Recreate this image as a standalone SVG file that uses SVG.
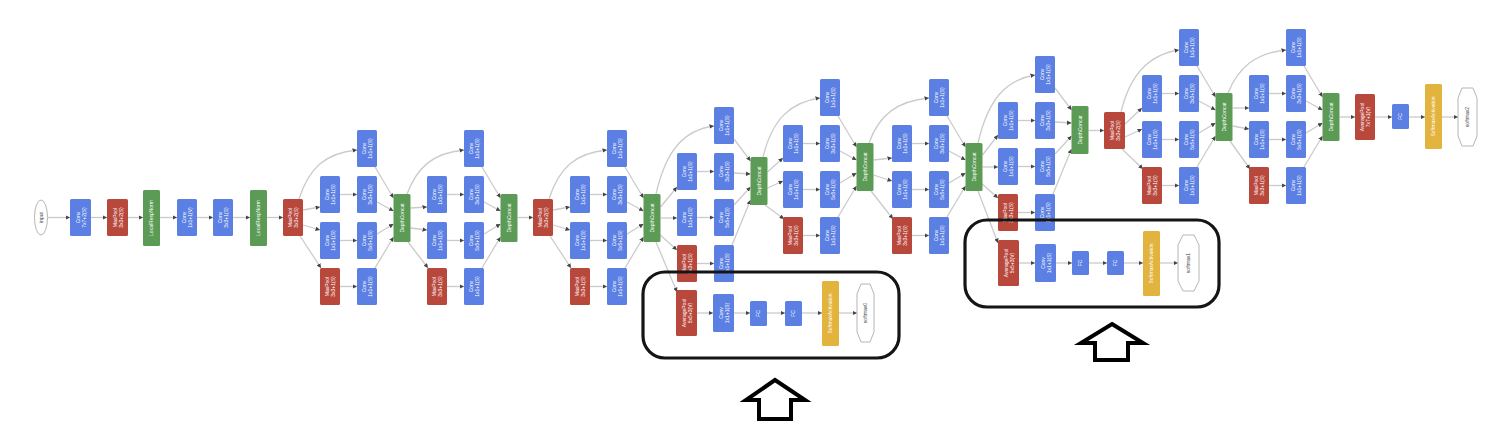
<svg xmlns="http://www.w3.org/2000/svg" width="1492" height="446" viewBox="0 0 1492 446">
<style>
.cv{fill:#5b7fe3;rx:1.5px}
.mp{fill:#b8473c;rx:1.5px}
.dc{fill:#5b9b55;rx:1.5px}
.sm{fill:#e2b33d;rx:1.5px}
.out{fill:#fff;stroke:#b5b5b5;stroke-width:1}
.t{fill:#fff;font-family:"Liberation Sans",Arial,sans-serif;font-size:5px;text-anchor:middle}
.td{fill:#444;font-family:"Liberation Sans",Arial,sans-serif;font-size:5px;text-anchor:middle}
.e{fill:none;stroke:#cbcbcb;stroke-width:1.3;marker-end:url(#ah)}
.frame{fill:none;stroke:#151515;stroke-width:3.2}
.big{fill:#fff;stroke:#000;stroke-width:4;stroke-linejoin:miter}
</style>
<defs>
<marker id="ah" viewBox="0 0 10 10" refX="10" refY="5" markerUnits="userSpaceOnUse" markerWidth="4.5" markerHeight="4.5" orient="auto"><path d="M0,0 L10,5 L0,10 z" fill="#444"/></marker>
</defs>
<rect width="1492" height="446" fill="#fff"/>

<g id="connectors">
 <g id="stem_edges">
  <path class="e" d="M48,217.5 H70"/>
  <path class="e" d="M91,217.5 H107"/>
  <path class="e" d="M128,217.5 H143"/>
  <path class="e" d="M160,217.5 H177"/>
  <path class="e" d="M197,217.5 H213"/>
  <path class="e" d="M233,217.5 H250"/>
  <path class="e" d="M267,217.5 H283"/>
  <path class="e" d="M517.5,217.5 H533"/>
  <path class="e" d="M1088.5,130.5 H1104"/>
  <path class="e" d="M1339.5,117 H1355"/>
  <path class="e" d="M1375,117 H1392"/>
  <path class="e" d="M1409,117 H1425"/>
  <path class="e" d="M1442,117 H1458"/>
 </g>
 <g id="aux_edges">
  <path class="e" d="M697,313 H713"/>
  <path class="e" d="M734,313 H750"/>
  <path class="e" d="M767,313 H785"/>
  <path class="e" d="M802,313 H822"/>
  <path class="e" d="M839,313 H857"/>
  <path class="e" d="M1019,263 H1035"/>
  <path class="e" d="M1056,263 H1072"/>
  <path class="e" d="M1089,263 H1107"/>
  <path class="e" d="M1124,263 H1143"/>
  <path class="e" d="M1160,263 H1178"/>
 </g>
 <g id="split_edges">
  <path class="e" d="M303,210 L320,207"/><path class="e" d="M303,225 L320,230"/><path class="e" d="M300,236 L321,268"/><path class="e" d="M299,199 C309,168 325,153 357,150"/>
  <path class="e" d="M410.5,208 L427,207"/><path class="e" d="M410.5,228 L427,230"/><path class="e" d="M408,242 L428,268"/><path class="e" d="M407,194 C417,168 432,153 464,150"/>
  <path class="e" d="M553,210 L570,207"/><path class="e" d="M553,225 L570,230"/><path class="e" d="M550,236 L571,268"/><path class="e" d="M549,199 C559,168 575,153 607,150"/>
  <path class="e" d="M660.5,207 L677,187"/><path class="e" d="M660.5,218 L677,218"/><path class="e" d="M659,234 L677,250"/><path class="e" d="M656,242 L677,292"/><path class="e" d="M656,194 C666,150 684,130 714,126"/>
  <path class="e" d="M767.5,172 L783,158"/><path class="e" d="M767.5,188 L783,181"/><path class="e" d="M765,205 L784,219"/><path class="e" d="M763,157 C772,120 790,102 820,98"/>
  <path class="e" d="M873.5,160 L892,158"/><path class="e" d="M873.5,175 L892,181"/><path class="e" d="M871,191 L893,219"/><path class="e" d="M869,143 C879,115 897,101 929,98"/>
  <path class="e" d="M982.5,155 L998,135"/><path class="e" d="M982.5,167 L998,167"/><path class="e" d="M981,183 L998,198"/><path class="e" d="M978,191 L998,243"/><path class="e" d="M978,143 C988,100 1005,80 1035,75"/>
  <path class="e" d="M1125,124 L1142,108"/><path class="e" d="M1125,137 L1142,129"/><path class="e" d="M1122,149 L1143,169"/><path class="e" d="M1121,112 C1130,75 1148,55 1179,50"/>
  <path class="e" d="M1232.5,108 L1249,108"/><path class="e" d="M1232.5,126 L1249,129"/><path class="e" d="M1230,141 L1250,169"/><path class="e" d="M1228,93 C1238,68 1255,53 1286,50"/>
 </g>
 <g id="module_edges_a" transform="translate(320,130)"><path class="e" d="M20,64.5 H37"/><path class="e" d="M20,110.5 H37"/><path class="e" d="M20,156.5 H37"/><path class="e" d="M55,37 L73.5,68"/><path class="e" d="M57,72 L73.5,81"/><path class="e" d="M57,104 L73.5,94"/><path class="e" d="M55,138 L73.5,107"/></g>
 <g id="module_edges_b" transform="translate(427,130)"><path class="e" d="M20,64.5 H37"/><path class="e" d="M20,110.5 H37"/><path class="e" d="M20,156.5 H37"/><path class="e" d="M55,37 L73.5,68"/><path class="e" d="M57,72 L73.5,81"/><path class="e" d="M57,104 L73.5,94"/><path class="e" d="M55,138 L73.5,107"/></g>
 <g id="module_edges_c" transform="translate(570,130)"><path class="e" d="M20,64.5 H37"/><path class="e" d="M20,110.5 H37"/><path class="e" d="M20,156.5 H37"/><path class="e" d="M55,37 L73.5,68"/><path class="e" d="M57,72 L73.5,81"/><path class="e" d="M57,104 L73.5,94"/><path class="e" d="M55,138 L73.5,107"/></g>
 <g id="module_edges_d" transform="translate(677,107)"><path class="e" d="M20,64.5 H37"/><path class="e" d="M20,110.5 H37"/><path class="e" d="M20,156.5 H37"/><path class="e" d="M57,32 L73.5,54"/><path class="e" d="M57,66 L73.5,67"/><path class="e" d="M57,98 L73.5,80"/><path class="e" d="M55,138 L73.5,93"/></g>
 <g id="module_edges_e" transform="translate(783,79)"><path class="e" d="M20,64.5 H37"/><path class="e" d="M20,110.5 H37"/><path class="e" d="M20,156.5 H37"/><path class="e" d="M55,37 L73.5,68"/><path class="e" d="M57,72 L73.5,81"/><path class="e" d="M57,104 L73.5,94"/><path class="e" d="M55,138 L73.5,107"/></g>
 <g id="module_edges_f" transform="translate(892,79)"><path class="e" d="M20,64.5 H37"/><path class="e" d="M20,110.5 H37"/><path class="e" d="M20,156.5 H37"/><path class="e" d="M55,37 L73.5,68"/><path class="e" d="M57,72 L73.5,81"/><path class="e" d="M57,104 L73.5,94"/><path class="e" d="M55,138 L73.5,107"/></g>
 <g id="module_edges_g" transform="translate(998,56)"><path class="e" d="M20,64.5 H37"/><path class="e" d="M20,110.5 H37"/><path class="e" d="M20,156.5 H37"/><path class="e" d="M57,32 L73.5,54"/><path class="e" d="M57,66 L73.5,67"/><path class="e" d="M57,98 L73.5,80"/><path class="e" d="M55,138 L73.5,93"/></g>
 <g id="module_edges_h" transform="translate(1142,29)"><path class="e" d="M20,64.5 H37"/><path class="e" d="M20,110.5 H37"/><path class="e" d="M20,156.5 H37"/><path class="e" d="M55,37 L73.5,68"/><path class="e" d="M57,72 L73.5,81"/><path class="e" d="M57,104 L73.5,94"/><path class="e" d="M55,138 L73.5,107"/></g>
 <g id="module_edges_i" transform="translate(1249,29)"><path class="e" d="M20,64.5 H37"/><path class="e" d="M20,110.5 H37"/><path class="e" d="M20,156.5 H37"/><path class="e" d="M55,37 L73.5,68"/><path class="e" d="M57,72 L73.5,81"/><path class="e" d="M57,104 L73.5,94"/><path class="e" d="M55,138 L73.5,107"/></g>
</g>

<g id="input"><ellipse class="out" cx="41" cy="217.5" rx="6.5" ry="17.5"/><text class="td" transform="translate(41,217.5) rotate(-90)" y="1.8">input</text></g>
<g id="conv1"><rect class="cv" x="70" y="199" width="21" height="37"/><text class="t" transform="translate(80.5,217.5) rotate(-90)"><tspan x="0" y="-0.6">Conv</tspan><tspan x="0" y="5.2">7x7+2(S)</tspan></text></g>
<g id="pool1"><rect class="mp" x="107" y="199" width="21" height="37"/><text class="t" transform="translate(117.5,217.5) rotate(-90)"><tspan x="0" y="-0.6">MaxPool</tspan><tspan x="0" y="5.2">3x3+2(S)</tspan></text></g>
<g id="norm1"><rect class="dc" x="143" y="190" width="17" height="56"/><text class="t" transform="translate(151.5,218) rotate(-90)" y="1.8">LocalRespNorm</text></g>
<g id="conv2r"><rect class="cv" x="177" y="199" width="20" height="37"/><text class="t" transform="translate(187,217.5) rotate(-90)"><tspan x="0" y="-0.6">Conv</tspan><tspan x="0" y="5.2">1x1+1(V)</tspan></text></g>
<g id="conv2"><rect class="cv" x="213" y="199" width="20" height="37"/><text class="t" transform="translate(223,217.5) rotate(-90)"><tspan x="0" y="-0.6">Conv</tspan><tspan x="0" y="5.2">3x3+1(S)</tspan></text></g>
<g id="norm2"><rect class="dc" x="250" y="190" width="17" height="56"/><text class="t" transform="translate(258.5,218) rotate(-90)" y="1.8">LocalRespNorm</text></g>
<g id="pool2"><rect class="mp" x="283" y="199" width="20" height="37"/><text class="t" transform="translate(293,217.5) rotate(-90)"><tspan x="0" y="-0.6">MaxPool</tspan><tspan x="0" y="5.2">3x3+2(S)</tspan></text></g>

<g id="inc3a" transform="translate(320,130)">
 <g id="inc3a_1"><rect class="cv" x="37" y="0" width="20" height="37"/><text class="t" transform="translate(47,18.5) rotate(-90)"><tspan x="0" y="-0.6">Conv</tspan><tspan x="0" y="5.2">1x1+1(S)</tspan></text></g>
 <g id="inc3a_2r"><rect class="cv" x="0" y="46" width="20" height="37"/><text class="t" transform="translate(10,64.5) rotate(-90)"><tspan x="0" y="-0.6">Conv</tspan><tspan x="0" y="5.2">1x1+1(S)</tspan></text></g>
 <g id="inc3a_2"><rect class="cv" x="37" y="46" width="20" height="37"/><text class="t" transform="translate(47,64.5) rotate(-90)"><tspan x="0" y="-0.6">Conv</tspan><tspan x="0" y="5.2">3x3+1(S)</tspan></text></g>
 <g id="inc3a_3r"><rect class="cv" x="0" y="92" width="20" height="37"/><text class="t" transform="translate(10,110.5) rotate(-90)"><tspan x="0" y="-0.6">Conv</tspan><tspan x="0" y="5.2">1x1+1(S)</tspan></text></g>
 <g id="inc3a_3"><rect class="cv" x="37" y="92" width="20" height="37"/><text class="t" transform="translate(47,110.5) rotate(-90)"><tspan x="0" y="-0.6">Conv</tspan><tspan x="0" y="5.2">5x5+1(S)</tspan></text></g>
 <g id="inc3a_p"><rect class="mp" x="0" y="138" width="20" height="37"/><text class="t" transform="translate(10,156.5) rotate(-90)"><tspan x="0" y="-0.6">MaxPool</tspan><tspan x="0" y="5.2">3x3+1(S)</tspan></text></g>
 <g id="inc3a_4"><rect class="cv" x="37" y="138" width="20" height="37"/><text class="t" transform="translate(47,156.5) rotate(-90)"><tspan x="0" y="-0.6">Conv</tspan><tspan x="0" y="5.2">1x1+1(S)</tspan></text></g>
 <g id="inc3a_cat"><rect class="dc" x="73.5" y="64" width="17" height="48"/><text class="t" transform="translate(82,88) rotate(-90)" y="1.8">DepthConcat</text></g>
</g>
<g id="inc3b" transform="translate(427,130)">
 <g id="inc3b_1"><rect class="cv" x="37" y="0" width="20" height="37"/><text class="t" transform="translate(47,18.5) rotate(-90)"><tspan x="0" y="-0.6">Conv</tspan><tspan x="0" y="5.2">1x1+1(S)</tspan></text></g>
 <g id="inc3b_2r"><rect class="cv" x="0" y="46" width="20" height="37"/><text class="t" transform="translate(10,64.5) rotate(-90)"><tspan x="0" y="-0.6">Conv</tspan><tspan x="0" y="5.2">1x1+1(S)</tspan></text></g>
 <g id="inc3b_2"><rect class="cv" x="37" y="46" width="20" height="37"/><text class="t" transform="translate(47,64.5) rotate(-90)"><tspan x="0" y="-0.6">Conv</tspan><tspan x="0" y="5.2">3x3+1(S)</tspan></text></g>
 <g id="inc3b_3r"><rect class="cv" x="0" y="92" width="20" height="37"/><text class="t" transform="translate(10,110.5) rotate(-90)"><tspan x="0" y="-0.6">Conv</tspan><tspan x="0" y="5.2">1x1+1(S)</tspan></text></g>
 <g id="inc3b_3"><rect class="cv" x="37" y="92" width="20" height="37"/><text class="t" transform="translate(47,110.5) rotate(-90)"><tspan x="0" y="-0.6">Conv</tspan><tspan x="0" y="5.2">5x5+1(S)</tspan></text></g>
 <g id="inc3b_p"><rect class="mp" x="0" y="138" width="20" height="37"/><text class="t" transform="translate(10,156.5) rotate(-90)"><tspan x="0" y="-0.6">MaxPool</tspan><tspan x="0" y="5.2">3x3+1(S)</tspan></text></g>
 <g id="inc3b_4"><rect class="cv" x="37" y="138" width="20" height="37"/><text class="t" transform="translate(47,156.5) rotate(-90)"><tspan x="0" y="-0.6">Conv</tspan><tspan x="0" y="5.2">1x1+1(S)</tspan></text></g>
 <g id="inc3b_cat"><rect class="dc" x="73.5" y="64" width="17" height="48"/><text class="t" transform="translate(82,88) rotate(-90)" y="1.8">DepthConcat</text></g>
</g>
<g id="pool3"><rect class="mp" x="533" y="199" width="20" height="37"/><text class="t" transform="translate(543,217.5) rotate(-90)"><tspan x="0" y="-0.6">MaxPool</tspan><tspan x="0" y="5.2">3x3+2(S)</tspan></text></g>
<g id="inc4a" transform="translate(570,130)">
 <g id="inc4a_1"><rect class="cv" x="37" y="0" width="20" height="37"/><text class="t" transform="translate(47,18.5) rotate(-90)"><tspan x="0" y="-0.6">Conv</tspan><tspan x="0" y="5.2">1x1+1(S)</tspan></text></g>
 <g id="inc4a_2r"><rect class="cv" x="0" y="46" width="20" height="37"/><text class="t" transform="translate(10,64.5) rotate(-90)"><tspan x="0" y="-0.6">Conv</tspan><tspan x="0" y="5.2">1x1+1(S)</tspan></text></g>
 <g id="inc4a_2"><rect class="cv" x="37" y="46" width="20" height="37"/><text class="t" transform="translate(47,64.5) rotate(-90)"><tspan x="0" y="-0.6">Conv</tspan><tspan x="0" y="5.2">3x3+1(S)</tspan></text></g>
 <g id="inc4a_3r"><rect class="cv" x="0" y="92" width="20" height="37"/><text class="t" transform="translate(10,110.5) rotate(-90)"><tspan x="0" y="-0.6">Conv</tspan><tspan x="0" y="5.2">1x1+1(S)</tspan></text></g>
 <g id="inc4a_3"><rect class="cv" x="37" y="92" width="20" height="37"/><text class="t" transform="translate(47,110.5) rotate(-90)"><tspan x="0" y="-0.6">Conv</tspan><tspan x="0" y="5.2">5x5+1(S)</tspan></text></g>
 <g id="inc4a_p"><rect class="mp" x="0" y="138" width="20" height="37"/><text class="t" transform="translate(10,156.5) rotate(-90)"><tspan x="0" y="-0.6">MaxPool</tspan><tspan x="0" y="5.2">3x3+1(S)</tspan></text></g>
 <g id="inc4a_4"><rect class="cv" x="37" y="138" width="20" height="37"/><text class="t" transform="translate(47,156.5) rotate(-90)"><tspan x="0" y="-0.6">Conv</tspan><tspan x="0" y="5.2">1x1+1(S)</tspan></text></g>
 <g id="inc4a_cat"><rect class="dc" x="73.5" y="64" width="17" height="48"/><text class="t" transform="translate(82,88) rotate(-90)" y="1.8">DepthConcat</text></g>
</g>
<g id="inc4b" transform="translate(677,107)">
 <g id="inc4b_1"><rect class="cv" x="37" y="0" width="20" height="37"/><text class="t" transform="translate(47,18.5) rotate(-90)"><tspan x="0" y="-0.6">Conv</tspan><tspan x="0" y="5.2">1x1+1(S)</tspan></text></g>
 <g id="inc4b_2r"><rect class="cv" x="0" y="46" width="20" height="37"/><text class="t" transform="translate(10,64.5) rotate(-90)"><tspan x="0" y="-0.6">Conv</tspan><tspan x="0" y="5.2">1x1+1(S)</tspan></text></g>
 <g id="inc4b_2"><rect class="cv" x="37" y="46" width="20" height="37"/><text class="t" transform="translate(47,64.5) rotate(-90)"><tspan x="0" y="-0.6">Conv</tspan><tspan x="0" y="5.2">3x3+1(S)</tspan></text></g>
 <g id="inc4b_3r"><rect class="cv" x="0" y="92" width="20" height="37"/><text class="t" transform="translate(10,110.5) rotate(-90)"><tspan x="0" y="-0.6">Conv</tspan><tspan x="0" y="5.2">1x1+1(S)</tspan></text></g>
 <g id="inc4b_3"><rect class="cv" x="37" y="92" width="20" height="37"/><text class="t" transform="translate(47,110.5) rotate(-90)"><tspan x="0" y="-0.6">Conv</tspan><tspan x="0" y="5.2">5x5+1(S)</tspan></text></g>
 <g id="inc4b_p"><rect class="mp" x="0" y="138" width="20" height="37"/><text class="t" transform="translate(10,156.5) rotate(-90)"><tspan x="0" y="-0.6">MaxPool</tspan><tspan x="0" y="5.2">3x3+1(S)</tspan></text></g>
 <g id="inc4b_4"><rect class="cv" x="37" y="138" width="20" height="37"/><text class="t" transform="translate(47,156.5) rotate(-90)"><tspan x="0" y="-0.6">Conv</tspan><tspan x="0" y="5.2">1x1+1(S)</tspan></text></g>
 <g id="inc4b_cat"><rect class="dc" x="73.5" y="50" width="17" height="48"/><text class="t" transform="translate(82,74) rotate(-90)" y="1.8">DepthConcat</text></g>
</g>
<g id="aux1">
 <g id="aux1_pool"><rect class="mp" x="676" y="290" width="21" height="46"/><text class="t" transform="translate(686.5,313) rotate(-90)"><tspan x="0" y="-0.6">AveragePool</tspan><tspan x="0" y="5.2">5x5+3(V)</tspan></text></g>
 <g id="aux1_conv"><rect class="cv" x="713" y="294" width="21" height="38"/><text class="t" transform="translate(723.5,313) rotate(-90)"><tspan x="0" y="-0.6">Conv</tspan><tspan x="0" y="5.2">1x1+1(S)</tspan></text></g>
 <g id="aux1_fc1"><rect class="cv" x="750" y="301" width="17" height="25"/><text class="t" transform="translate(758.5,313.5) rotate(-90)" y="1.8">FC</text></g>
 <g id="aux1_fc2"><rect class="cv" x="785" y="301" width="17" height="25"/><text class="t" transform="translate(793.5,313.5) rotate(-90)" y="1.8">FC</text></g>
 <g id="aux1_sm"><rect class="sm" x="822" y="281" width="17" height="65"/><text class="t" transform="translate(830.5,313.5) rotate(-90)" y="1.8">SoftmaxActivation</text></g>
 <g id="softmax0"><polygon class="out" points="861,284 870,284 874,294 874,332 870,342 861,342 857,332 857,294"/><text class="td" transform="translate(865.5,313) rotate(-90)" y="1.8">softmax0</text></g>
</g>
<g id="inc4c" transform="translate(783,79)">
 <g id="inc4c_1"><rect class="cv" x="37" y="0" width="20" height="37"/><text class="t" transform="translate(47,18.5) rotate(-90)"><tspan x="0" y="-0.6">Conv</tspan><tspan x="0" y="5.2">1x1+1(S)</tspan></text></g>
 <g id="inc4c_2r"><rect class="cv" x="0" y="46" width="20" height="37"/><text class="t" transform="translate(10,64.5) rotate(-90)"><tspan x="0" y="-0.6">Conv</tspan><tspan x="0" y="5.2">1x1+1(S)</tspan></text></g>
 <g id="inc4c_2"><rect class="cv" x="37" y="46" width="20" height="37"/><text class="t" transform="translate(47,64.5) rotate(-90)"><tspan x="0" y="-0.6">Conv</tspan><tspan x="0" y="5.2">3x3+1(S)</tspan></text></g>
 <g id="inc4c_3r"><rect class="cv" x="0" y="92" width="20" height="37"/><text class="t" transform="translate(10,110.5) rotate(-90)"><tspan x="0" y="-0.6">Conv</tspan><tspan x="0" y="5.2">1x1+1(S)</tspan></text></g>
 <g id="inc4c_3"><rect class="cv" x="37" y="92" width="20" height="37"/><text class="t" transform="translate(47,110.5) rotate(-90)"><tspan x="0" y="-0.6">Conv</tspan><tspan x="0" y="5.2">5x5+1(S)</tspan></text></g>
 <g id="inc4c_p"><rect class="mp" x="0" y="138" width="20" height="37"/><text class="t" transform="translate(10,156.5) rotate(-90)"><tspan x="0" y="-0.6">MaxPool</tspan><tspan x="0" y="5.2">3x3+1(S)</tspan></text></g>
 <g id="inc4c_4"><rect class="cv" x="37" y="138" width="20" height="37"/><text class="t" transform="translate(47,156.5) rotate(-90)"><tspan x="0" y="-0.6">Conv</tspan><tspan x="0" y="5.2">1x1+1(S)</tspan></text></g>
 <g id="inc4c_cat"><rect class="dc" x="73.5" y="64" width="17" height="48"/><text class="t" transform="translate(82,88) rotate(-90)" y="1.8">DepthConcat</text></g>
</g>
<g id="inc4d" transform="translate(892,79)">
 <g id="inc4d_1"><rect class="cv" x="37" y="0" width="20" height="37"/><text class="t" transform="translate(47,18.5) rotate(-90)"><tspan x="0" y="-0.6">Conv</tspan><tspan x="0" y="5.2">1x1+1(S)</tspan></text></g>
 <g id="inc4d_2r"><rect class="cv" x="0" y="46" width="20" height="37"/><text class="t" transform="translate(10,64.5) rotate(-90)"><tspan x="0" y="-0.6">Conv</tspan><tspan x="0" y="5.2">1x1+1(S)</tspan></text></g>
 <g id="inc4d_2"><rect class="cv" x="37" y="46" width="20" height="37"/><text class="t" transform="translate(47,64.5) rotate(-90)"><tspan x="0" y="-0.6">Conv</tspan><tspan x="0" y="5.2">3x3+1(S)</tspan></text></g>
 <g id="inc4d_3r"><rect class="cv" x="0" y="92" width="20" height="37"/><text class="t" transform="translate(10,110.5) rotate(-90)"><tspan x="0" y="-0.6">Conv</tspan><tspan x="0" y="5.2">1x1+1(S)</tspan></text></g>
 <g id="inc4d_3"><rect class="cv" x="37" y="92" width="20" height="37"/><text class="t" transform="translate(47,110.5) rotate(-90)"><tspan x="0" y="-0.6">Conv</tspan><tspan x="0" y="5.2">5x5+1(S)</tspan></text></g>
 <g id="inc4d_p"><rect class="mp" x="0" y="138" width="20" height="37"/><text class="t" transform="translate(10,156.5) rotate(-90)"><tspan x="0" y="-0.6">MaxPool</tspan><tspan x="0" y="5.2">3x3+1(S)</tspan></text></g>
 <g id="inc4d_4"><rect class="cv" x="37" y="138" width="20" height="37"/><text class="t" transform="translate(47,156.5) rotate(-90)"><tspan x="0" y="-0.6">Conv</tspan><tspan x="0" y="5.2">1x1+1(S)</tspan></text></g>
 <g id="inc4d_cat"><rect class="dc" x="73.5" y="64" width="17" height="48"/><text class="t" transform="translate(82,88) rotate(-90)" y="1.8">DepthConcat</text></g>
</g>
<g id="inc4e" transform="translate(998,56)">
 <g id="inc4e_1"><rect class="cv" x="37" y="0" width="20" height="37"/><text class="t" transform="translate(47,18.5) rotate(-90)"><tspan x="0" y="-0.6">Conv</tspan><tspan x="0" y="5.2">1x1+1(S)</tspan></text></g>
 <g id="inc4e_2r"><rect class="cv" x="0" y="46" width="20" height="37"/><text class="t" transform="translate(10,64.5) rotate(-90)"><tspan x="0" y="-0.6">Conv</tspan><tspan x="0" y="5.2">1x1+1(S)</tspan></text></g>
 <g id="inc4e_2"><rect class="cv" x="37" y="46" width="20" height="37"/><text class="t" transform="translate(47,64.5) rotate(-90)"><tspan x="0" y="-0.6">Conv</tspan><tspan x="0" y="5.2">3x3+1(S)</tspan></text></g>
 <g id="inc4e_3r"><rect class="cv" x="0" y="92" width="20" height="37"/><text class="t" transform="translate(10,110.5) rotate(-90)"><tspan x="0" y="-0.6">Conv</tspan><tspan x="0" y="5.2">1x1+1(S)</tspan></text></g>
 <g id="inc4e_3"><rect class="cv" x="37" y="92" width="20" height="37"/><text class="t" transform="translate(47,110.5) rotate(-90)"><tspan x="0" y="-0.6">Conv</tspan><tspan x="0" y="5.2">5x5+1(S)</tspan></text></g>
 <g id="inc4e_p"><rect class="mp" x="0" y="138" width="20" height="37"/><text class="t" transform="translate(10,156.5) rotate(-90)"><tspan x="0" y="-0.6">MaxPool</tspan><tspan x="0" y="5.2">3x3+1(S)</tspan></text></g>
 <g id="inc4e_4"><rect class="cv" x="37" y="138" width="20" height="37"/><text class="t" transform="translate(47,156.5) rotate(-90)"><tspan x="0" y="-0.6">Conv</tspan><tspan x="0" y="5.2">1x1+1(S)</tspan></text></g>
 <g id="inc4e_cat"><rect class="dc" x="73.5" y="50" width="17" height="48"/><text class="t" transform="translate(82,74) rotate(-90)" y="1.8">DepthConcat</text></g>
</g>
<g id="aux2">
 <g id="aux2_pool"><rect class="mp" x="998" y="240" width="21" height="46"/><text class="t" transform="translate(1008.5,263) rotate(-90)"><tspan x="0" y="-0.6">AveragePool</tspan><tspan x="0" y="5.2">5x5+3(V)</tspan></text></g>
 <g id="aux2_conv"><rect class="cv" x="1035" y="244" width="21" height="38"/><text class="t" transform="translate(1045.5,263) rotate(-90)"><tspan x="0" y="-0.6">Conv</tspan><tspan x="0" y="5.2">1x1+1(S)</tspan></text></g>
 <g id="aux2_fc1"><rect class="cv" x="1072" y="251" width="17" height="24"/><text class="t" transform="translate(1080.5,263) rotate(-90)" y="1.8">FC</text></g>
 <g id="aux2_fc2"><rect class="cv" x="1107" y="251" width="17" height="24"/><text class="t" transform="translate(1115.5,263) rotate(-90)" y="1.8">FC</text></g>
 <g id="aux2_sm"><rect class="sm" x="1143" y="231" width="17" height="65"/><text class="t" transform="translate(1151.5,263.5) rotate(-90)" y="1.8">SoftmaxActivation</text></g>
 <g id="softmax1"><polygon class="out" points="1183,235 1194,235 1199,245 1199,281 1194,291 1183,291 1178,281 1178,245"/><text class="td" transform="translate(1188.5,263) rotate(-90)" y="1.8">softmax1</text></g>
</g>
<g id="pool4"><rect class="mp" x="1104" y="112" width="21" height="37"/><text class="t" transform="translate(1114.5,130.5) rotate(-90)"><tspan x="0" y="-0.6">MaxPool</tspan><tspan x="0" y="5.2">3x3+2(S)</tspan></text></g>
<g id="inc5a" transform="translate(1142,29)">
 <g id="inc5a_1"><rect class="cv" x="37" y="0" width="20" height="37"/><text class="t" transform="translate(47,18.5) rotate(-90)"><tspan x="0" y="-0.6">Conv</tspan><tspan x="0" y="5.2">1x1+1(S)</tspan></text></g>
 <g id="inc5a_2r"><rect class="cv" x="0" y="46" width="20" height="37"/><text class="t" transform="translate(10,64.5) rotate(-90)"><tspan x="0" y="-0.6">Conv</tspan><tspan x="0" y="5.2">1x1+1(S)</tspan></text></g>
 <g id="inc5a_2"><rect class="cv" x="37" y="46" width="20" height="37"/><text class="t" transform="translate(47,64.5) rotate(-90)"><tspan x="0" y="-0.6">Conv</tspan><tspan x="0" y="5.2">3x3+1(S)</tspan></text></g>
 <g id="inc5a_3r"><rect class="cv" x="0" y="92" width="20" height="37"/><text class="t" transform="translate(10,110.5) rotate(-90)"><tspan x="0" y="-0.6">Conv</tspan><tspan x="0" y="5.2">1x1+1(S)</tspan></text></g>
 <g id="inc5a_3"><rect class="cv" x="37" y="92" width="20" height="37"/><text class="t" transform="translate(47,110.5) rotate(-90)"><tspan x="0" y="-0.6">Conv</tspan><tspan x="0" y="5.2">5x5+1(S)</tspan></text></g>
 <g id="inc5a_p"><rect class="mp" x="0" y="138" width="20" height="37"/><text class="t" transform="translate(10,156.5) rotate(-90)"><tspan x="0" y="-0.6">MaxPool</tspan><tspan x="0" y="5.2">3x3+1(S)</tspan></text></g>
 <g id="inc5a_4"><rect class="cv" x="37" y="138" width="20" height="37"/><text class="t" transform="translate(47,156.5) rotate(-90)"><tspan x="0" y="-0.6">Conv</tspan><tspan x="0" y="5.2">1x1+1(S)</tspan></text></g>
 <g id="inc5a_cat"><rect class="dc" x="73.5" y="64" width="17" height="48"/><text class="t" transform="translate(82,88) rotate(-90)" y="1.8">DepthConcat</text></g>
</g>
<g id="inc5b" transform="translate(1249,29)">
 <g id="inc5b_1"><rect class="cv" x="37" y="0" width="20" height="37"/><text class="t" transform="translate(47,18.5) rotate(-90)"><tspan x="0" y="-0.6">Conv</tspan><tspan x="0" y="5.2">1x1+1(S)</tspan></text></g>
 <g id="inc5b_2r"><rect class="cv" x="0" y="46" width="20" height="37"/><text class="t" transform="translate(10,64.5) rotate(-90)"><tspan x="0" y="-0.6">Conv</tspan><tspan x="0" y="5.2">1x1+1(S)</tspan></text></g>
 <g id="inc5b_2"><rect class="cv" x="37" y="46" width="20" height="37"/><text class="t" transform="translate(47,64.5) rotate(-90)"><tspan x="0" y="-0.6">Conv</tspan><tspan x="0" y="5.2">3x3+1(S)</tspan></text></g>
 <g id="inc5b_3r"><rect class="cv" x="0" y="92" width="20" height="37"/><text class="t" transform="translate(10,110.5) rotate(-90)"><tspan x="0" y="-0.6">Conv</tspan><tspan x="0" y="5.2">1x1+1(S)</tspan></text></g>
 <g id="inc5b_3"><rect class="cv" x="37" y="92" width="20" height="37"/><text class="t" transform="translate(47,110.5) rotate(-90)"><tspan x="0" y="-0.6">Conv</tspan><tspan x="0" y="5.2">5x5+1(S)</tspan></text></g>
 <g id="inc5b_p"><rect class="mp" x="0" y="138" width="20" height="37"/><text class="t" transform="translate(10,156.5) rotate(-90)"><tspan x="0" y="-0.6">MaxPool</tspan><tspan x="0" y="5.2">3x3+1(S)</tspan></text></g>
 <g id="inc5b_4"><rect class="cv" x="37" y="138" width="20" height="37"/><text class="t" transform="translate(47,156.5) rotate(-90)"><tspan x="0" y="-0.6">Conv</tspan><tspan x="0" y="5.2">1x1+1(S)</tspan></text></g>
 <g id="inc5b_cat"><rect class="dc" x="73.5" y="64" width="17" height="48"/><text class="t" transform="translate(82,88) rotate(-90)" y="1.8">DepthConcat</text></g>
</g>
<g id="head">
 <g id="pool5"><rect class="mp" x="1355" y="94" width="20" height="46"/><text class="t" transform="translate(1365,117) rotate(-90)"><tspan x="0" y="-0.6">AveragePool</tspan><tspan x="0" y="5.2">7x7+1(V)</tspan></text></g>
 <g id="fc"><rect class="cv" x="1392" y="104" width="17" height="25"/><text class="t" transform="translate(1400.5,116.5) rotate(-90)" y="1.8">FC</text></g>
 <g id="sm2"><rect class="sm" x="1425" y="84" width="17" height="65"/><text class="t" transform="translate(1433.5,116.5) rotate(-90)" y="1.8">SoftmaxActivation</text></g>
 <g id="softmax2"><polygon class="out" points="1462,88 1473,88 1477,98 1477,136 1473,146 1462,146 1458,136 1458,98"/><text class="td" transform="translate(1467.5,117) rotate(-90)" y="1.8">softmax2</text></g>
</g>

<g id="highlights">
 <rect class="frame" x="643" y="272" width="256" height="86" rx="22"/>
 <rect class="frame" x="965" y="220" width="254" height="87" rx="22"/>
 <polygon class="big" points="775,380 805,400 791,400 791,419 759,419 759,400 746,400"/>
 <polygon class="big" points="1112,324 1143,343 1128,343 1128,360 1095,360 1095,343 1081,343"/>
</g>
</svg>
